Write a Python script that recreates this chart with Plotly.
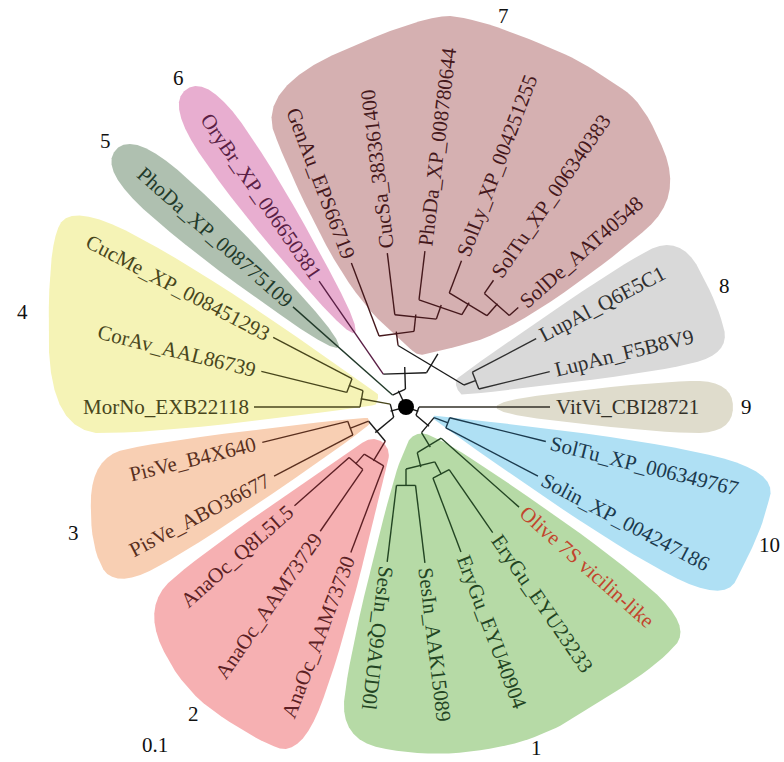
import math
import plotly.graph_objects as go

# Vicilin phylogeny (Newick, branch lengths in substitutions per site)
NEWICK = (
    "((VitVi_CBI28721:0.131,"
    "((SolTu_XP_006349767:0.099,Solin_XP_004247186:0.104):0.015,"
    "(Olive 7S vicilin-like:0.104,"
    "((EryGu_EYU23233:0.0766,EryGu_EYU40904:0.079):0.014,"
    "(SesIn_AAK15089:0.078,SesIn_Q9AUD0l:0.077):0.017):0.015):0.017):0.017):0.013,"
    "(((AnaOc_AAM73730:0.0926,(AnaOc_AAM73729:0.075,AnaOc_Q8L5L5:0.073):0.013):0.023,"
    "(PisVe_ABO36677:0.089,PisVe_B4X640:0.088):0.020):0.024,"
    "(MorNo_EXB22118:0.106,(CorAv_AAL86739:0.088,CucMe_XP_008451293:0.089):0.015):0.030):0.016,"
    "(PhoDa_XP_008775109:0.133,"
    "(OryBr_XP_006650381:0.113,"
    "((GenAu_EPS66719:0.078,(CucSa_383361400:0.062,(PhoDa_XP_008780644:0.049,"
    "(SolLy_XP_004251255:0.0345,(SolTu_XP_006340383:0.016,SolDe_AAT40548:0.012):0.016)"
    ":0.014):0.015):0.017):0.014,"
    "(LupAl_Q6E5C1:0.072,LupAn_F5B8V9:0.073):0.013):0.022):0.022):0.018);"
)

# Numbered clades and their members
CLADE_IDS = ["1", "2", "3", "4", "5", "6", "7", "8", "9", "10"]
CLADE_MEMBERS = [
    ["Olive 7S vicilin-like", "EryGu_EYU23233", "EryGu_EYU40904", "SesIn_AAK15089", "SesIn_Q9AUD0l"],
    ["AnaOc_AAM73730", "AnaOc_AAM73729", "AnaOc_Q8L5L5"],
    ["PisVe_ABO36677", "PisVe_B4X640"],
    ["MorNo_EXB22118", "CorAv_AAL86739", "CucMe_XP_008451293"],
    ["PhoDa_XP_008775109"],
    ["OryBr_XP_006650381"],
    ["GenAu_EPS66719", "CucSa_383361400", "PhoDa_XP_008780644", "SolLy_XP_004251255",
     "SolTu_XP_006340383", "SolDe_AAT40548"],
    ["LupAl_Q6E5C1", "LupAn_F5B8V9"],
    ["VitVi_CBI28721"],
    ["SolTu_XP_006349767", "Solin_XP_004247186"],
]
HIGHLIGHT_LEAF = "Olive 7S vicilin-like"
SCALE_LABEL = "0.1"

# Styling
CLADE_FILLS = ["#b6daa6", "#f6b0b2", "#f8cfb3", "#f5f3b6", "#afc0b0",
               "#e8aed0", "#d5b0b1", "#d9d9d9", "#dfdccc", "#afe0f4"]
CLADE_TEXT = ["#234523", "#5c1f24", "#5a2f1e", "#48461c", "#223a2a",
              "#5a1f45", "#45181c", "#2f2f2f", "#333128", "#1b3a4e"]
HIGHLIGHT_COLOR = "#c2452d"
FONT = "Liberation Serif, Times New Roman, serif"
FONT_SIZE = 21
W, H = 784, 762
CX, CY = 406, 407
PX_PER_UNIT = 1000.0


def parse_newick(s):
    pos = 0

    def node():
        nonlocal pos
        n = {"children": [], "name": "", "bl": 0.0}
        if s[pos] == "(":
            pos += 1
            while True:
                n["children"].append(node())
                if s[pos] == ",":
                    pos += 1
                    continue
                if s[pos] == ")":
                    pos += 1
                    break
        start = pos
        while pos < len(s) and s[pos] not in ":,);":
            pos += 1
        n["name"] = s[start:pos].strip()
        if pos < len(s) and s[pos] == ":":
            pos += 1
            start = pos
            while s[pos] not in ",);":
                pos += 1
            n["bl"] = float(s[start:pos])
        return n

    return node()


root = parse_newick(NEWICK)
leaves = []


def set_depth(n, d, parent=None):
    n["r"] = (d + n["bl"]) * PX_PER_UNIT
    n["parent"] = parent
    if not n["children"]:
        leaves.append(n)
    for c in n["children"]:
        set_depth(c, d + n["bl"], n)


set_depth(root, 0.0)
root["r"] = 0.0
STEP = 360.0 / len(leaves)
for i, lf in enumerate(leaves):
    lf["theta"] = i * STEP


def set_angle(n):
    if n["children"]:
        for c in n["children"]:
            set_angle(c)
        n["theta"] = sum(c["theta"] for c in n["children"]) / len(n["children"])


set_angle(root)
leaf_by_name = {lf["name"]: lf for lf in leaves}


def xy(r, th):
    a = math.radians(th)
    return CX + r * math.cos(a), CY + r * math.sin(a)


# Times-compatible advance widths (per 1000 em)
ADV = {**{c: 500 for c in "0123456789_"},
       "A": 722, "B": 667, "C": 667, "D": 722, "E": 611, "F": 556, "G": 722, "H": 722,
       "I": 333, "J": 389, "K": 722, "L": 611, "M": 889, "N": 722, "O": 722, "P": 556,
       "Q": 722, "R": 667, "S": 556, "T": 611, "U": 722, "V": 722, "W": 944, "X": 722,
       "Y": 722, "Z": 611, "a": 444, "b": 500, "c": 444, "d": 500, "e": 444, "f": 333,
       "g": 500, "h": 500, "i": 278, "j": 278, "k": 500, "l": 278, "m": 778, "n": 500,
       "o": 500, "p": 500, "q": 500, "r": 333, "s": 389, "t": 278, "u": 500, "v": 500,
       "w": 722, "x": 500, "y": 500, "z": 444, " ": 250, "-": 333}


def text_width(s, size=FONT_SIZE):
    return sum(ADV.get(ch, 500) for ch in s) * size / 1000.0


LABEL_GAP = 5


def clade_of(node_name):
    for k, mem in enumerate(CLADE_MEMBERS):
        if node_name in mem:
            return k
    return None


def leaf_set(n):
    if not n["children"]:
        return {n["name"]}
    out = set()
    for c in n["children"]:
        out |= leaf_set(c)
    return out


# clade membership of every node (for branch colouring)
def tag_nodes(n):
    ls = leaf_set(n)
    n["clade"] = None
    for k, mem in enumerate(CLADE_MEMBERS):
        if ls <= set(mem):
            n["clade"] = k
    for c in n["children"]:
        tag_nodes(c)


tag_nodes(root)


def mrca(names):
    best = root
    stack = [root]
    while stack:
        n = stack.pop()
        if set(names) <= leaf_set(n):
            if n["r"] >= best["r"]:
                best = n
        stack.extend(n["children"])
    return best


# ---------- geometry helpers for clade highlight regions ----------
def convex_hull(pts):
    pts = sorted(set(pts))
    if len(pts) < 3:
        return pts

    def cross(o, a, b):
        return (a[0] - o[0]) * (b[1] - o[1]) - (a[1] - o[1]) * (b[0] - o[0])

    lower, upper = [], []
    for p in pts:
        while len(lower) >= 2 and cross(lower[-2], lower[-1], p) <= 0:
            lower.pop()
        lower.append(p)
    for p in reversed(pts):
        while len(upper) >= 2 and cross(upper[-2], upper[-1], p) <= 0:
            upper.pop()
        upper.append(p)
    return lower[:-1] + upper[:-1]


def clip(poly, f):
    out = []
    n = len(poly)
    for i in range(n):
        p, q = poly[i], poly[(i + 1) % n]
        fp, fq = f(p), f(q)
        if fp >= 0:
            out.append(p)
        if (fp >= 0) != (fq >= 0):
            t = fp / (fp - fq)
            out.append((p[0] + t * (q[0] - p[0]), p[1] + t * (q[1] - p[1])))
    return out


def chaikin(poly, it=3):
    for _ in range(it):
        new = []
        n = len(poly)
        for i in range(n):
            p, q = poly[i], poly[(i + 1) % n]
            new.append((0.75 * p[0] + 0.25 * q[0], 0.75 * p[1] + 0.25 * q[1]))
            new.append((0.25 * p[0] + 0.75 * q[0], 0.25 * p[1] + 0.75 * q[1]))
        poly = new
    return poly


PAD_OUT, PAD_SIDE, PAD_IN, GAP, TXT_H = 32, 16, 16, 9, 20
NUM_OFFSET = 14

fig = go.Figure()
number_pos = []
for k, members in enumerate(CLADE_MEMBERS):
    lvs = [leaf_by_name[m] for m in members]
    ths = [lf["theta"] for lf in lvs]
    th_lo, th_hi = min(ths) - STEP / 2, max(ths) + STEP / 2
    th_mid = sum(ths) / len(ths)
    pts = []
    for lf in lvs:
        a = math.radians(lf["theta"])
        u = (math.cos(a), math.sin(a))
        nv = (-math.sin(a), math.cos(a))
        w = text_width(lf["name"])
        for s in (lf["r"] + 2, lf["r"] + LABEL_GAP + w + PAD_OUT):
            for t in (-(TXT_H / 2 + PAD_SIDE), TXT_H / 2 + PAD_SIDE):
                pts.append((CX + s * u[0] + t * nv[0], CY + s * u[1] + t * nv[1]))
    if len(lvs) == 1:
        r0 = 50.0
    else:
        r0 = min(max(mrca(members)["r"] - 5, 45.0), 70.0)
    ix, iy = xy(r0, th_mid)
    for j in range(16):
        b = 2 * math.pi * j / 16
        pts.append((ix + PAD_IN * math.cos(b), iy + PAD_IN * math.sin(b)))
    poly = convex_hull(pts)
    alo, ahi = math.radians(th_lo), math.radians(th_hi)
    nlo = (-math.sin(alo), math.cos(alo))
    nhi = (-math.sin(ahi), math.cos(ahi))
    poly = clip(poly, lambda p: (p[0] - CX) * nlo[0] + (p[1] - CY) * nlo[1] - GAP / 2)
    poly = clip(poly, lambda p: -((p[0] - CX) * nhi[0] + (p[1] - CY) * nhi[1]) - GAP / 2)
    poly = chaikin(poly, 3)
    xs = [p[0] for p in poly] + [poly[0][0]]
    ys = [p[1] for p in poly] + [poly[0][1]]
    fig.add_trace(go.Scatter(x=xs, y=ys, mode="lines", fill="toself",
                             fillcolor=CLADE_FILLS[k], line=dict(width=0),
                             hoverinfo="skip", showlegend=False))
    am = math.radians(th_mid)
    proj = max((p[0] - CX) * math.cos(am) + (p[1] - CY) * math.sin(am) for p in poly)
    nx, ny = xy(proj + NUM_OFFSET, th_mid)
    number_pos.append((min(max(nx, 12), W - 14), min(max(ny, 16), H - 14)))

# ---------- branches ----------
seg = {}


def add_seg(color, p, q):
    xs, ys = seg.setdefault(color, ([], []))
    xs.extend([p[0], q[0], None])
    ys.extend([p[1], q[1], None])


def draw(n):
    col = "#1a1a1a" if n["clade"] is None else CLADE_TEXT[n["clade"]]
    if n["parent"] is not None:
        add_seg(col, xy(n["parent"]["r"], n["theta"]), xy(n["r"], n["theta"]))
    ch = n["children"]
    if len(ch) > 1 and n["r"] > 0:
        for a, b in zip(ch[:-1], ch[1:]):
            add_seg(col, xy(n["r"], a["theta"]), xy(n["r"], b["theta"]))
    for c in ch:
        draw(c)


draw(root)
for color, (xs, ys) in seg.items():
    fig.add_trace(go.Scatter(x=xs, y=ys, mode="lines",
                             line=dict(color=color, width=1.4),
                             hoverinfo="skip", showlegend=False))

fig.add_trace(go.Scatter(x=[CX], y=[CY], mode="markers",
                         marker=dict(color="black", size=16),
                         hoverinfo="skip", showlegend=False))

# ---------- labels ----------
ann = []
for lf in leaves:
    th = lf["theta"]
    w = text_width(lf["name"])
    d = lf["r"] + LABEL_GAP + w / 2
    x, y = xy(d, th)
    if 100 < th < 260:
        ang = th - 180
    elif th > 180:
        ang = th - 360
    else:
        ang = th
    k = clade_of(lf["name"])
    color = HIGHLIGHT_COLOR if lf["name"] == HIGHLIGHT_LEAF else CLADE_TEXT[k]
    ann.append(dict(x=x, y=y, xref="x", yref="y", text=lf["name"], showarrow=False,
                    textangle=ang, xanchor="center", yanchor="middle",
                    font=dict(family=FONT, size=FONT_SIZE, color=color)))

for k, (x, y) in enumerate(number_pos):
    ann.append(dict(x=x, y=y, xref="x", yref="y", text=CLADE_IDS[k], showarrow=False,
                    xanchor="center", yanchor="middle",
                    font=dict(family=FONT, size=FONT_SIZE, color="#111111")))

ann.append(dict(x=0.198, y=0.022, xref="paper", yref="paper", text=SCALE_LABEL,
                showarrow=False, xanchor="center", yanchor="middle",
                font=dict(family=FONT, size=FONT_SIZE, color="#111111")))

fig.update_layout(
    width=W, height=H, margin=dict(l=0, r=0, t=0, b=0),
    paper_bgcolor="white", plot_bgcolor="white",
    xaxis=dict(range=[0, W], visible=False, fixedrange=True),
    yaxis=dict(range=[H, 0], visible=False, fixedrange=True),
    annotations=ann, showlegend=False,
)
fig.write_html("out.html", config={"displayModeBar": False})
